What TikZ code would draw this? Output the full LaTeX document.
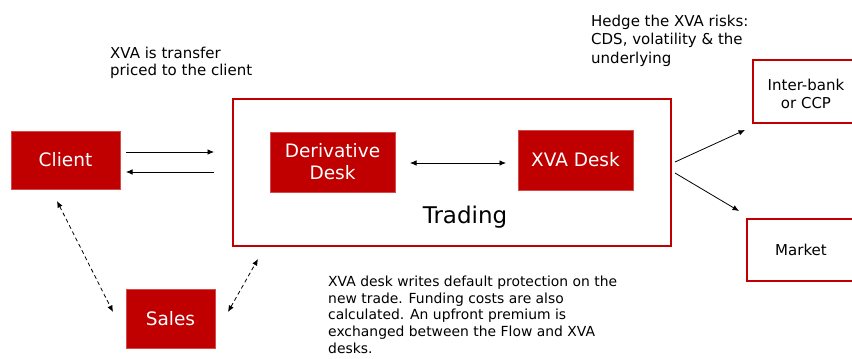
\documentclass[tikz,border=0pt]{standalone}
\usepackage{fontspec}
\setmainfont{DejaVu Sans}
\usetikzlibrary{arrows.meta}
\definecolor{xred}{RGB}{192,0,0}
\tikzset{
  redbox/.style={fill=xred, draw=xred!70, line width=0.6pt, text=white, inner sep=0pt, align=center, font=\fontsize{18.5}{22}\selectfont},
  outbox/.style={draw=xred, line width=2pt, fill=white, inner sep=0pt, align=center, font=\fontsize{15}{18}\selectfont},
  note/.style={inner sep=0pt, align=left, anchor=north west, font=\fontsize{15}{17.5}\selectfont},
  arr/.style={-{Latex[length=6.5pt,width=5.5pt]}, line width=0.8pt},
  darr/.style={{Latex[length=6.5pt,width=5.5pt]}-{Latex[length=6.5pt,width=5.5pt]}, line width=0.8pt},
  dasharr/.style={darr, dashed, dash pattern=on 4pt off 3pt}
}
\begin{document}
\begin{tikzpicture}[x=1pt,y=-1pt]
\useasboundingbox (0,0) rectangle (852,359);
\clip (0,0) rectangle (852,359);
\fill[white] (0,0) rectangle (852,359);
% nodes
\node[redbox, minimum width=109pt, minimum height=58pt] (client) at (65.5,160) {Client};
\node[outbox, minimum width=438pt, minimum height=147pt] (trading) at (452,172.5) {};
\node[font=\fontsize{23}{27}\selectfont, inner sep=0pt] (tradlbl) at (465,217) {Trading};
\node[redbox, minimum width=125pt, minimum height=60pt] (deriv) at (332.5,162) {Derivative\\Desk};
\node[redbox, minimum width=115pt, minimum height=60pt] (xva) at (575.5,160) {XVA Desk};
\node[redbox, minimum width=89pt, minimum height=59pt] (sales) at (170.5,318.5) {Sales};
\node[outbox, minimum width=107pt, minimum height=63pt] (inter) at (806.5,91.5) {};
\node[inner sep=0pt, align=center, font=\fontsize{15}{18}\selectfont] (interlbl) at (806,94) {Inter-bank\\or CCP};
\node[outbox, minimum width=113pt, minimum height=62pt] (market) at (803.5,250) {};
\node[inner sep=0pt, font=\fontsize{15}{18}\selectfont] (marketlbl) at (801,250) {Market};
% texts
\node[note] (t1) at (110,46.5) {XVA is transfer\\priced to the client};
\node[note, font=\fontsize{15}{18.5}\selectfont] (t2) at (591,14.5) {Hedge the XVA risks:\\CDS, volatility \& the\\underlying};
\node[note, font=\fontsize{13.9}{16.6}\selectfont] (t3) at (328,276) {XVA desk writes default protection on the\\new trade. Funding costs are also\\calculated. An upfront premium is\\exchanged between the Flow and XVA\\desks.};
% connectors
\coordinate (c1a) at (126,152); \coordinate (c1b) at (214,152);
\coordinate (c2a) at (214,172); \coordinate (c2b) at (126,172);
\draw[arr] (c1a) -- (c1b);
\draw[arr] (c2a) -- (c2b);
\coordinate (d1) at (410,163); \coordinate (d2) at (506,163);
\draw[darr] (d1) -- (d2);
\coordinate (h0) at (675,162); \coordinate (h1) at (745,130);
\coordinate (m0) at (675,173); \coordinate (m1) at (739,211);
\draw[arr] (h0) -- (h1);
\draw[arr] (m0) -- (m1);
\coordinate (cs1) at (57,201); \coordinate (cs2) at (113,312);
\draw[dasharr] (cs1) -- (cs2);
\coordinate (st1) at (228,312); \coordinate (st2) at (258,259);
\draw[dasharr] (st1) -- (st2);
\end{tikzpicture}
\end{document}
